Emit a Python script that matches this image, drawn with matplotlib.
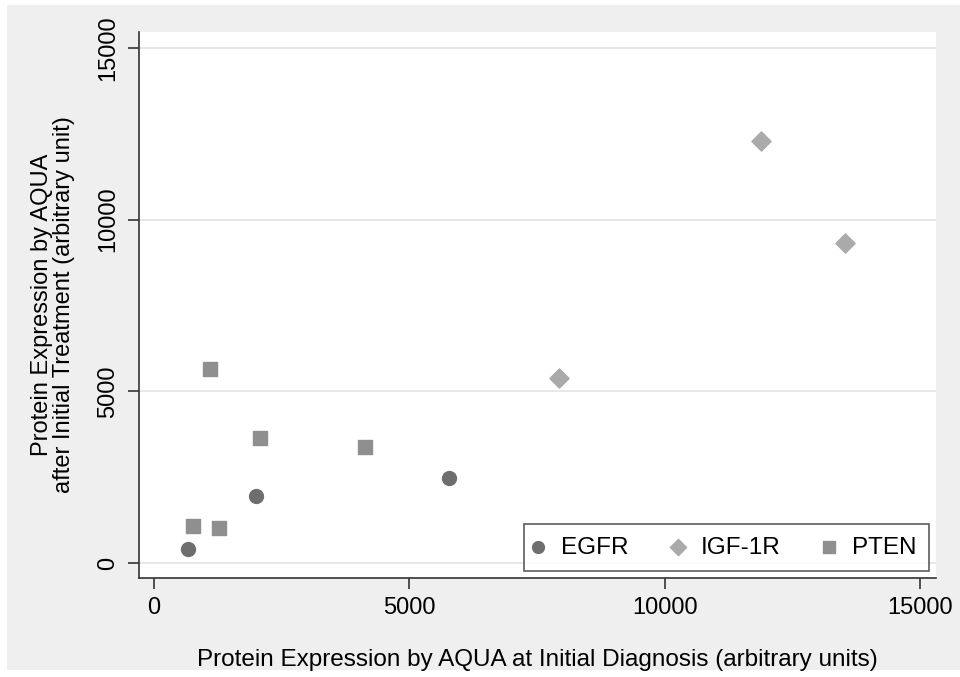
import matplotlib
matplotlib.use("Agg")
import matplotlib.pyplot as plt
from matplotlib.patches import Rectangle

plt.rcParams["font.family"] = ["Liberation Sans", "DejaVu Sans"]

# values
egfr_x = [672, 1991, 5777]
egfr_y = [408, 1961, 2485]
igf_x = [7930, 11879, 13537]
igf_y = [5397, 12280, 9310]
pten_x = [757, 1097, 1279, 2069, 4125]
pten_y = [1068, 5650, 1029, 3650, 3388]

ticks = [0, 5000, 10000, 15000]
tick_labels = ["0", "5000", "10000", "15000"]

fig = plt.figure(figsize=(9.6, 6.77), dpi=100)
fig.patch.set_facecolor("white")
fig.patches.append(Rectangle((7 / 960, 7 / 677), 1 - 7 / 960, 1 - 12 / 677,
                             transform=fig.transFigure, facecolor="#efefef",
                             edgecolor="none", zorder=-10))

ax = fig.add_axes([139 / 960, 1 - 578 / 677, (936 - 139) / 960, (578 - 32) / 677])
ax.set_facecolor("white")

ax.scatter(egfr_x, egfr_y, s=100, marker="o", color="#6e6e6e", label="EGFR", zorder=3)
ax.scatter(igf_x, igf_y, s=95, marker="D", color="#aaaaaa", label="IGF-1R", zorder=3)
ax.scatter(pten_x, pten_y, s=110, marker="s", color="#8f8f8f", label="PTEN", zorder=3)

ax.set_xlim(-294, 15313)
ax.set_ylim(-437, 15463)
ax.set_xticks(ticks)
ax.set_xticklabels(tick_labels)
ax.set_yticks(ticks)
ax.set_yticklabels(tick_labels, rotation=90, va="center")

ax.grid(axis="y", color="#e3e3e3", linewidth=1.2)
ax.set_axisbelow(True)
for side in ["top", "right"]:
    ax.spines[side].set_visible(False)
for side in ["left", "bottom"]:
    ax.spines[side].set_color("#333333")
    ax.spines[side].set_linewidth(1.2)
ax.tick_params(axis="both", direction="out", length=8, width=1.2,
               color="#333333", labelsize=17, pad=6)

ax.set_xlabel("Protein Expression by AQUA at Initial Diagnosis (arbitrary units)",
              fontsize=17.5, labelpad=21)
ax.set_ylabel("Protein Expression by AQUA\nafter Initial Treatment (arbitrary unit)",
              fontsize=17, labelpad=16, linespacing=1.0)

leg = ax.legend(loc="lower right", ncol=3, fontsize=17.5, frameon=True, fancybox=False,
                edgecolor="#333333", borderaxespad=0.3, handletextpad=0.85,
                handlelength=0.2, columnspacing=1.9, markerscale=0.85,
                borderpad=0.5)
leg.get_frame().set_linewidth(1.2)

fig.savefig("out.png", dpi=100)
